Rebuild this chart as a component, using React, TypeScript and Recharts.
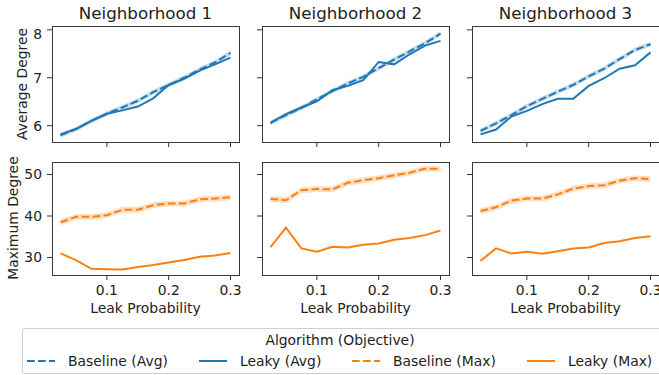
import React from 'react';
import { ComposedChart, Area, Line, XAxis, YAxis } from 'recharts';

// Leak probability values on the x axis
const leakProb = [0.025, 0.05, 0.075, 0.1, 0.125, 0.15, 0.175, 0.2, 0.225, 0.25, 0.275, 0.3];

// Average degree, per neighborhood
const avgBaseline1 = [5.8, 5.93, 6.1, 6.25, 6.38, 6.52, 6.7, 6.85, 7.0, 7.17, 7.32, 7.52];
const avgLeaky1 = [5.82, 5.93, 6.1, 6.25, 6.32, 6.4, 6.57, 6.85, 6.98, 7.15, 7.28, 7.42];
const avgBaseline2 = [6.06, 6.22, 6.37, 6.55, 6.72, 6.88, 7.02, 7.2, 7.38, 7.55, 7.72, 7.92];
const avgLeaky2 = [6.06, 6.24, 6.38, 6.51, 6.74, 6.83, 6.95, 7.33, 7.28, 7.49, 7.67, 7.77];
const avgBaseline3 = [5.89, 6.05, 6.22, 6.41, 6.56, 6.71, 6.85, 7.03, 7.19, 7.39, 7.58, 7.7];
const avgLeaky3 = [5.82, 5.92, 6.19, 6.31, 6.45, 6.56, 6.56, 6.83, 6.99, 7.19, 7.26, 7.53];

// Maximum degree, per neighborhood
const maxBaseline1 = [38.5, 39.8, 39.8, 40.2, 41.5, 41.5, 42.6, 43.0, 43.0, 44.0, 44.2, 44.5];
const maxLeaky1 = [31.0, 29.4, 27.3, 27.2, 27.1, 27.7, 28.2, 28.8, 29.4, 30.2, 30.5, 31.1];
const maxBaseline2 = [44.1, 43.8, 46.2, 46.5, 46.4, 48.0, 48.6, 49.1, 49.8, 50.4, 51.4, 51.4];
const maxLeaky2 = [32.5, 37.2, 32.2, 31.4, 32.6, 32.4, 33.1, 33.4, 34.3, 34.7, 35.4, 36.5];
const maxBaseline3 = [41.2, 42.1, 43.7, 44.2, 44.2, 45.2, 46.6, 47.2, 47.4, 48.5, 49.1, 48.9];
const maxLeaky3 = [29.2, 32.2, 31.0, 31.4, 30.9, 31.5, 32.2, 32.4, 33.5, 33.9, 34.7, 35.1];

// half width of the confidence band around the baseline
const avgCI = 0.05;
const maxCI = 0.7;

const titles = ['Neighborhood 1', 'Neighborhood 2', 'Neighborhood 3'];
const xTicks = [0.1, 0.2, 0.3];
const avgTicks = [6, 7, 8];
const maxTicks = [30, 40, 50];

const BLUE = '#1f77b4';
const ORANGE = '#ff7f0e';
const FONT = 'DejaVu Sans, sans-serif';
const FS = 13.9;
const DASH = '7.7 3.3';

const PLOT_LEFT = [52, 262, 472];
const PLOT_W = 187;
const ROWS = [
  { top: 26, h: 116 },
  { top: 162, h: 113 },
];
const Y_AXIS_W = 45;
const RIGHT_PAD = 14;

function buildRows(baseline: number[], leaky: number[], ci: number) {
  return leakProb.map((x, i) => ({
    x,
    baseline: baseline[i],
    leaky: leaky[i],
    band: [baseline[i] - ci, baseline[i] + ci],
  }));
}

// keeps the tick mark, draws no label (shared axes)
const NoLabel = () => <g />;

interface PanelProps {
  data: any[];
  left: number;
  top: number;
  h: number;
  color: string;
  domain: [number, number];
  yTicks: number[];
  showY: boolean;
  showX: boolean;
}

function Panel({ data, left, top, h, color, domain, yTicks, showY, showX }: PanelProps) {
  const tickStyle = { fontSize: FS, fontFamily: FONT, fill: '#222' };
  return (
    <>
      <div style={{ position: 'absolute', left: left - Y_AXIS_W, top }}>
        <ComposedChart
          width={Y_AXIS_W + PLOT_W + RIGHT_PAD}
          height={h + 25}
          data={data}
          margin={{ top: 0, right: RIGHT_PAD, bottom: 0, left: 0 }}
        >
          <XAxis
            dataKey="x"
            type="number"
            domain={[0.01125, 0.31375]}
            ticks={xTicks}
            allowDataOverflow
            height={25}
            axisLine={false}
            tickLine={{ stroke: '#333' }}
            tickSize={5}
            tickMargin={5}
            tick={showX ? tickStyle : NoLabel}
          />
          <YAxis
            type="number"
            domain={domain}
            ticks={yTicks}
            allowDataOverflow
            width={Y_AXIS_W}
            axisLine={false}
            tickLine={{ stroke: '#333' }}
            tickSize={5}
            tickMargin={5}
            tick={showY ? tickStyle : NoLabel}
          />
          <Area
            dataKey="band"
            stroke="none"
            fill={color}
            fillOpacity={0.25}
            isAnimationActive={false}
            activeDot={false}
          />
          <Line
            dataKey="baseline"
            stroke={color}
            strokeWidth={2}
            strokeDasharray={DASH}
            dot={false}
            isAnimationActive={false}
          />
          <Line
            dataKey="leaky"
            stroke={color}
            strokeWidth={2}
            dot={false}
            isAnimationActive={false}
          />
        </ComposedChart>
      </div>
      <div
        style={{
          position: 'absolute',
          left: left - 0.5,
          top: top - 0.5,
          width: PLOT_W + 1,
          height: h + 1,
          boxSizing: 'border-box',
          border: '1px solid #3a3a3a',
          pointerEvents: 'none',
        }}
      />
    </>
  );
}

function LegendItem({ color, dashed, label, width }: { color: string; dashed: boolean; label: string; width: number }) {
  return (
    <div style={{ display: 'flex', alignItems: 'center', width }}>
      <svg width={28} height={10} style={{ marginRight: 13 }}>
        <line
          x1={0}
          y1={5}
          x2={28}
          y2={5}
          stroke={color}
          strokeWidth={2}
          strokeDasharray={dashed ? DASH : undefined}
        />
      </svg>
      <span>{label}</span>
    </div>
  );
}

export default function App() {
  const avgRows = [
    buildRows(avgBaseline1, avgLeaky1, avgCI),
    buildRows(avgBaseline2, avgLeaky2, avgCI),
    buildRows(avgBaseline3, avgLeaky3, avgCI),
  ];
  const maxRows = [
    buildRows(maxBaseline1, maxLeaky1, maxCI),
    buildRows(maxBaseline2, maxLeaky2, maxCI),
    buildRows(maxBaseline3, maxLeaky3, maxCI),
  ];

  const labelStyle: React.CSSProperties = {
    position: 'absolute',
    fontFamily: FONT,
    fontSize: FS,
    color: '#222',
    whiteSpace: 'nowrap',
  };

  return (
    <div style={{ position: 'absolute', left: 0, top: 0, width: 659, height: 375, background: '#fff', fontFamily: FONT, overflow: 'hidden' }}>
      {titles.map((t, i) => (
        <div
          key={t}
          style={{
            ...labelStyle,
            fontSize: 16.7,
            left: PLOT_LEFT[i],
            width: PLOT_W,
            top: 3,
            textAlign: 'center',
          }}
        >
          {t}
        </div>
      ))}

      {avgRows.map((rows, i) => (
        <Panel
          key={`avg-${i}`}
          data={rows}
          left={PLOT_LEFT[i]}
          top={ROWS[0].top}
          h={ROWS[0].h}
          color={BLUE}
          domain={[5.66, 8.08]}
          yTicks={avgTicks}
          showY={i === 0}
          showX={false}
        />
      ))}
      {maxRows.map((rows, i) => (
        <Panel
          key={`max-${i}`}
          data={rows}
          left={PLOT_LEFT[i]}
          top={ROWS[1].top}
          h={ROWS[1].h}
          color={ORANGE}
          domain={[25.8, 53.0]}
          yTicks={maxTicks}
          showY={i === 0}
          showX={true}
        />
      ))}

      <div style={{ ...labelStyle, left: 22, top: 84, transform: 'translate(-50%, -50%) rotate(-90deg)' }}>
        Average Degree
      </div>
      <div style={{ ...labelStyle, left: 13, top: 218, transform: 'translate(-50%, -50%) rotate(-90deg)' }}>
        Maximum Degree
      </div>

      {PLOT_LEFT.map((l) => (
        <div key={`xl-${l}`} style={{ ...labelStyle, left: l, width: PLOT_W, top: 300, textAlign: 'center' }}>
          Leak Probability
        </div>
      ))}

      <div
        style={{
          position: 'absolute',
          left: 22,
          top: 328,
          width: 642,
          height: 46,
          boxSizing: 'border-box',
          border: '1px solid #d0d0d0',
          borderRadius: 3,
          fontFamily: FONT,
          fontSize: FS,
          color: '#222',
        }}
      >
        <div style={{ textAlign: 'center', marginTop: 3, lineHeight: '17px', paddingRight: 6 }}>Algorithm (Objective)</div>
        <div style={{ display: 'flex', marginLeft: 4, lineHeight: '18px', marginTop: 3 }}>
          <LegendItem color={BLUE} dashed label="Baseline (Avg)" width={172} />
          <LegendItem color={BLUE} dashed={false} label="Leaky (Avg)" width={153} />
          <LegendItem color={ORANGE} dashed label="Baseline (Max)" width={175} />
          <LegendItem color={ORANGE} dashed={false} label="Leaky (Max)" width={130} />
        </div>
      </div>
    </div>
  );
}
